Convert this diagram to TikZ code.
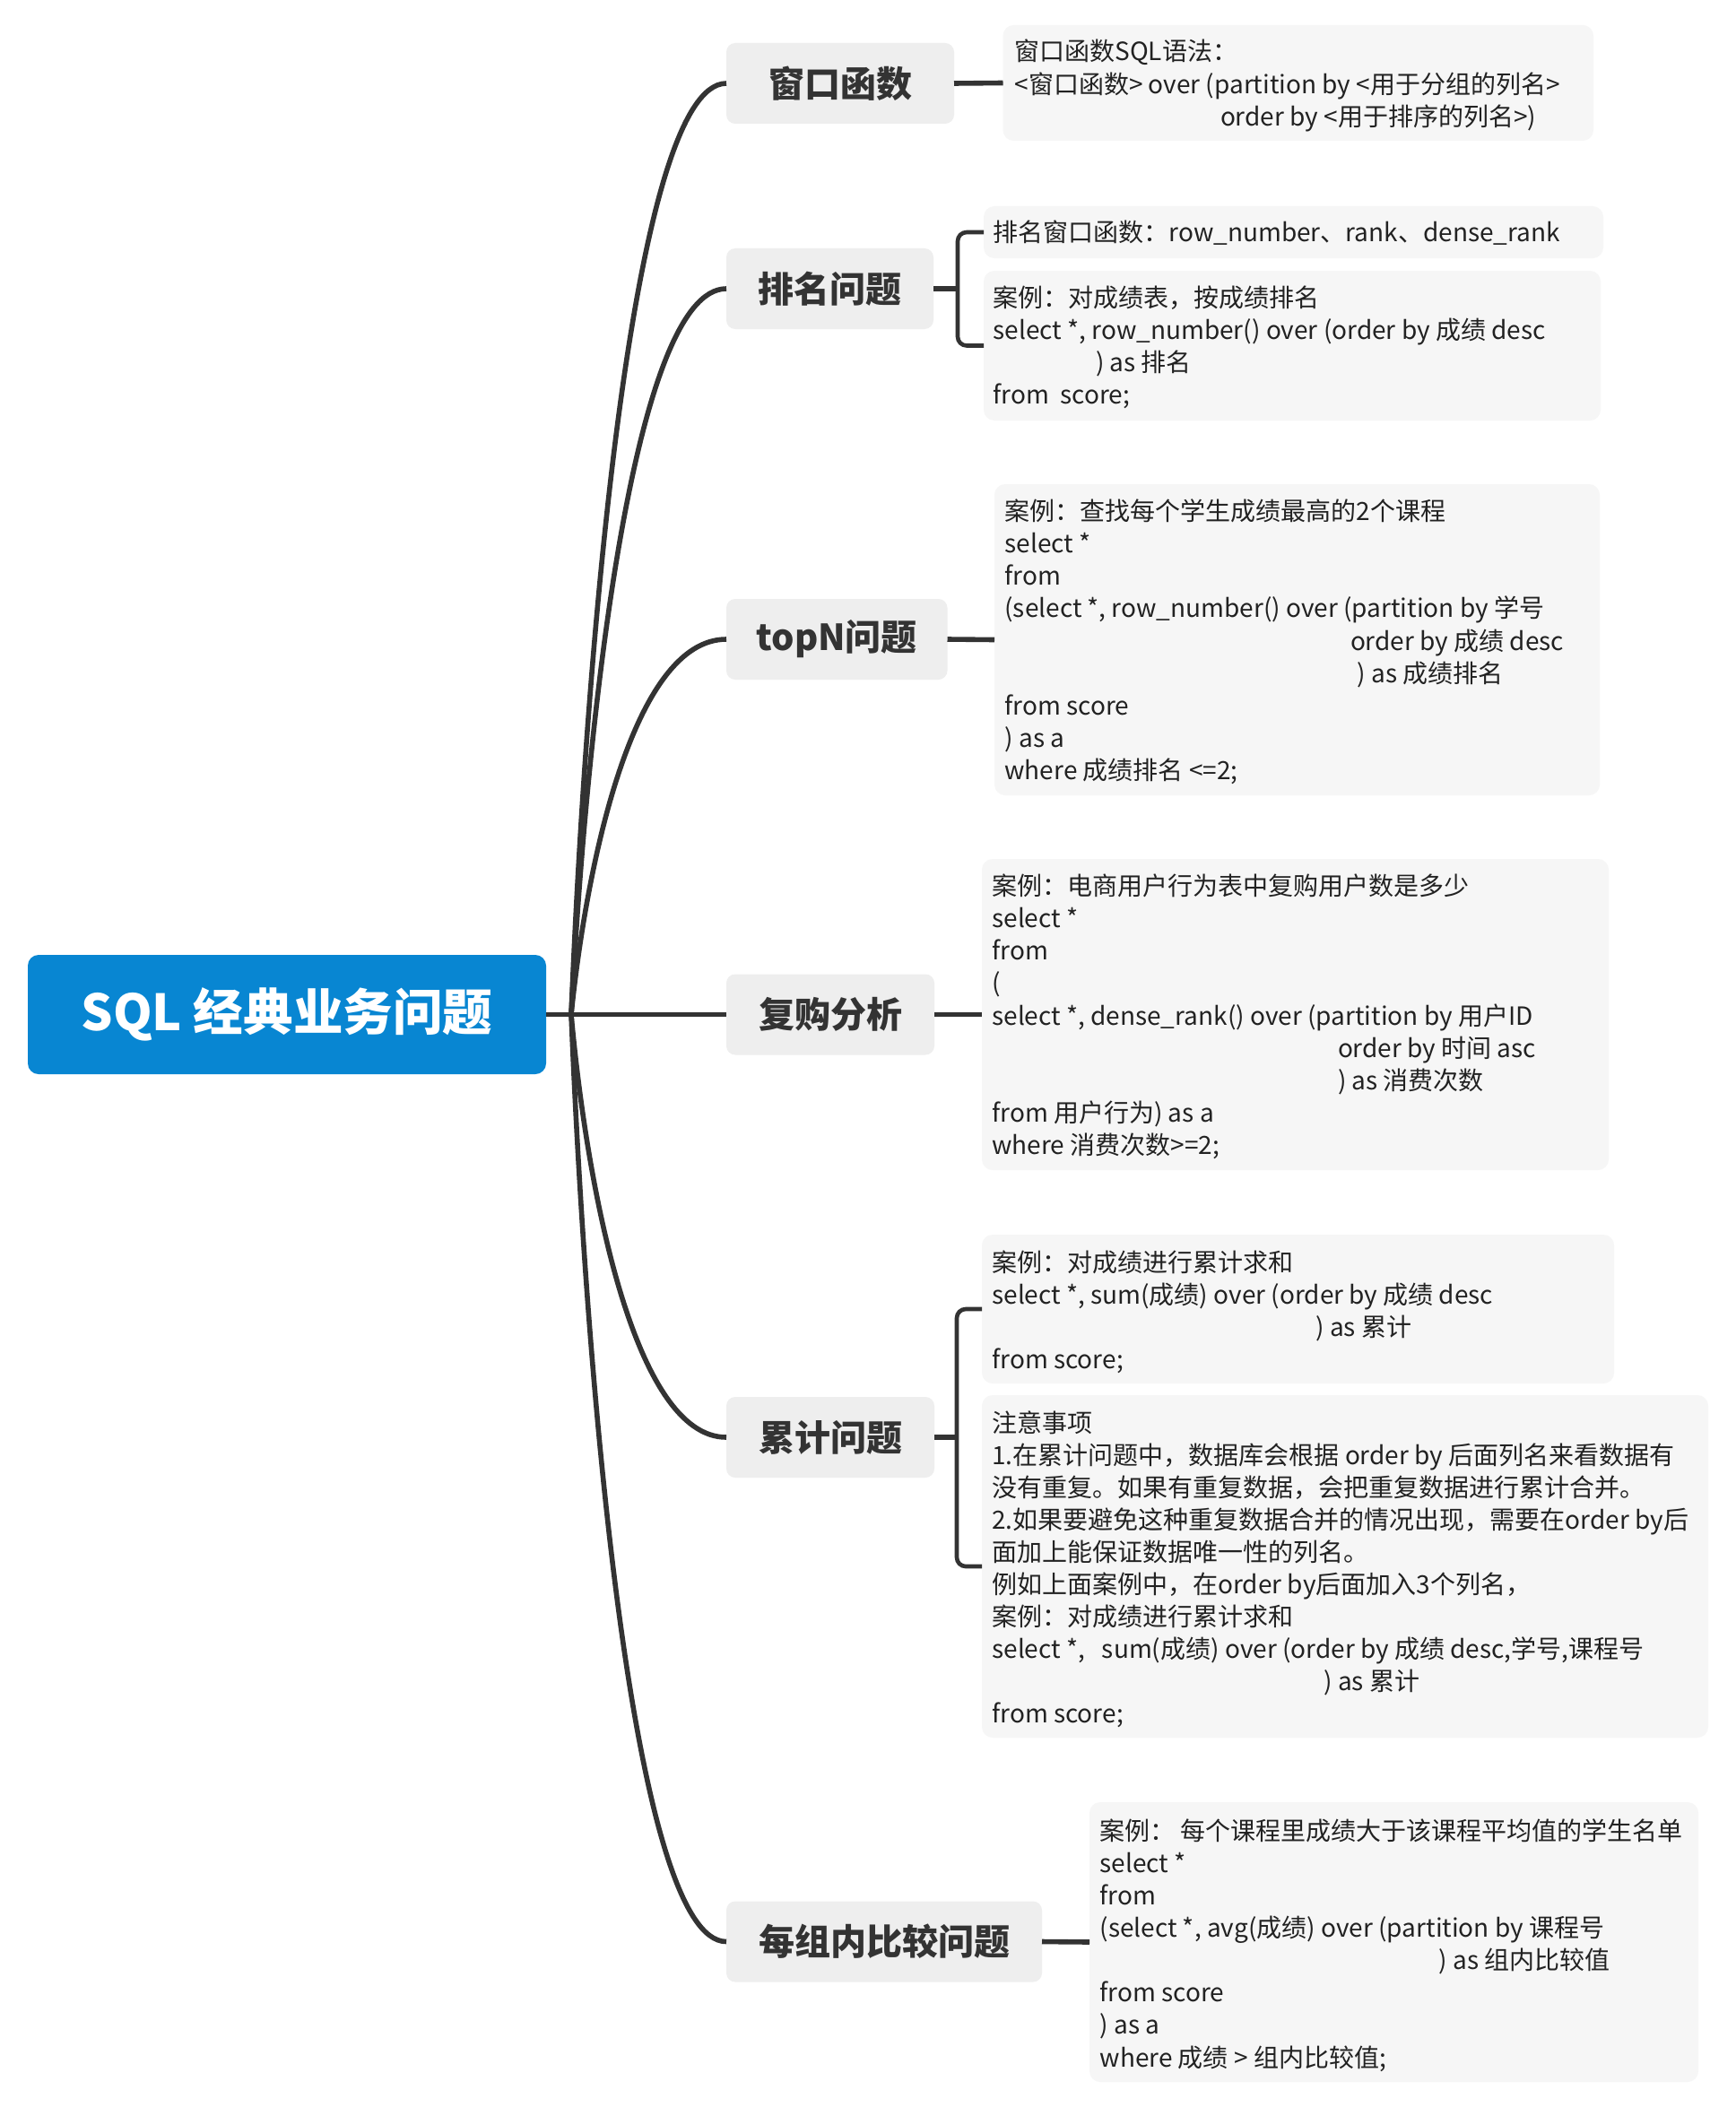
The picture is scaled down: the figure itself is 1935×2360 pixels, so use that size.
\documentclass[tikz,border=0pt]{standalone}
\usepackage{fontspec}
\setmainfont{Noto Sans CJK SC}
\definecolor{rootblue}{HTML}{0886D2}
\definecolor{topicgray}{HTML}{EEEEEE}
\definecolor{detailgray}{HTML}{F6F6F6}
\definecolor{linegray}{HTML}{333333}
\definecolor{titlegray}{HTML}{333333}
\definecolor{textgray}{HTML}{222222}
\newcommand\myind[1]{\hspace*{#1}}
\begin{document}
\begin{tikzpicture}[x=0.5pt,y=-0.5pt,
  conn/.style={draw=linegray, line width=2.8pt},
  brk/.style={draw=linegray, line width=2.3pt, rounded corners=5pt},
  rootbox/.style={fill=rootblue, rounded corners=6pt, inner sep=0pt, outer sep=0pt, text=white, font=\fontsize{27.8}{32}\selectfont\bfseries},
  topic/.style={fill=topicgray, rounded corners=5pt, inner sep=0pt, outer sep=0pt, minimum height=45pt, text=titlegray, font=\fontsize{20}{24}\selectfont\bfseries, anchor=north west},
  detail/.style={fill=detailgray, rounded corners=6pt, inner sep=0pt, outer sep=0pt, anchor=north west},
  txt/.style={inner sep=0pt, outer sep=0pt, anchor=base west, text=textgray, font=\fontsize{14}{18.05}\selectfont}]
\useasboundingbox (0,0) rectangle (1935,2360);
\fill[white] (0,0) rectangle (1935,2360);

% root
\node[rootbox, anchor=north west, minimum width=289pt, minimum height=66.5pt] (root) at (31,1065) {SQL 经典业务问题};

% topics
\node[topic, minimum width=127pt]   (t1) at (810,48)     {窗口函数};
\node[topic, minimum width=115.5pt] (t2) at (810,277)    {排名问题};
\node[topic, minimum width=123.25pt](t3) at (810,668)    {topN问题};
\node[topic, minimum width=116pt]   (t4) at (810,1086.5) {复购分析};
\node[topic, minimum width=116pt]   (t5) at (810,1558)   {累计问题};
\node[topic, minimum width=176pt]   (t6) at (810,2120.5) {每组内比较问题};

% detail boxes
\node[detail, minimum width=329.25pt, minimum height=64.5pt] (B1)  at (1118.5,28) {};
\node[detail, minimum width=345.5pt,  minimum height=29pt]   (B2a) at (1097,230) {};
\node[detail, minimum width=344pt,    minimum height=83.5pt] (B2b) at (1097,302) {};
\node[detail, minimum width=337.5pt,  minimum height=173.5pt](B3)  at (1109,540) {};
\node[detail, minimum width=349.5pt,  minimum height=173.5pt](B4)  at (1095,958) {};
\node[detail, minimum width=352.5pt,  minimum height=83pt]   (B5a) at (1095,1377) {};
\node[detail, minimum width=405pt,    minimum height=191pt]  (B5b) at (1095,1556) {};
\node[detail, minimum width=339.5pt,  minimum height=156pt]  (B6)  at (1215,2010) {};

% texts
\node[txt] (x1) at (1131.5,68) {\parbox[t]{450pt}{窗口函数SQL语法：\\
<窗口函数> over (partition by <用于分组的列名>\\
\myind{114.75pt}order by <用于排序的列名>)}};

\node[txt] (x2a) at (1107.6,269.6) {排名窗口函数：row\_number、rank、dense\_rank};

\node[txt] (x2b) at (1107.6,342.6) {\parbox[t]{450pt}{案例：对成绩表，按成绩排名\\
select *, row\_number() over (order by 成绩 desc\\
\myind{57.25pt}) as 排名\\
from\ \ score;}};

\node[txt] (x3) at (1120.5,580.6) {\parbox[t]{450pt}{案例：查找每个学生成绩最高的2个课程\\
select *\\
from\\
(select *, row\_number() over (partition by 学号\\
\myind{192.75pt}order by 成绩 desc\\
\myind{196.7pt}) as 成绩排名\\
from score\\
) as a\\
where 成绩排名 <=2;}};

\node[txt] (x4) at (1106.4,998.6) {\parbox[t]{450pt}{案例：电商用户行为表中复购用户数是多少\\
select *\\
from\\
(\\
select *, dense\_rank() over (partition by 用户ID\\
\myind{192.8pt}order by 时间 asc\\
\myind{192.8pt}) as 消费次数\\
from 用户行为) as a\\
where 消费次数>=2;}};

\node[txt] (x5a) at (1106.4,1418.2) {\parbox[t]{450pt}{案例：对成绩进行累计求和\\
select *, sum(成绩) over (order by 成绩 desc\\
\myind{180.5pt}) as 累计\\
from score;}};

\node[txt] (x5b) at (1106.4,1597) {\parbox[t]{450pt}{注意事项\\
1.在累计问题中，数据库会根据 order by 后面列名来看数据有\\
没有重复。如果有重复数据，会把重复数据进行累计合并。\\
2.如果要避免这种重复数据合并的情况出现，需要在order by后\\
面加上能保证数据唯一性的列名。\\
例如上面案例中，在order by后面加入3个列名，\\
案例：对成绩进行累计求和\\
select *,\ \ \ sum(成绩) over (order by 成绩 desc,学号,课程号\\
\myind{185pt}) as 累计\\
from score;}};

\node[txt] (x6) at (1226.6,2052.3) {\parbox[t]{450pt}{案例：\ 每个课程里成绩大于该课程平均值的学生名单\\
select *\\
from\\
(select *, avg(成绩) over (partition by 课程号\\
\myind{189pt}) as 组内比较值\\
from score\\
) as a\\
where 成绩 > 组内比较值;}};

% connectors from root
\coordinate (hub) at (637,1131.5);
\draw[conn] (root.east) -- (t4.west);
\draw[conn] (hub) .. controls (654,716) and (706,93) .. (t1.west);
\draw[conn] (hub) .. controls (654,807.7) and (706,322) .. (t2.west);
\draw[conn] (hub) .. controls (654,964) and (706,713) .. (t3.west);
\draw[conn] (hub) .. controls (654,1320) and (706,1603) .. (t5.west);
\draw[conn] (hub) .. controls (654,1545) and (706,2165.5) .. (t6.west);

% topic to details
\draw[conn] (t1.east) -- (B1.west);
\draw[conn] (t3.east) -- (B3.west);
\draw[conn] (t4.east) -- (B4.west);
\draw[conn] (t6.east) -- (B6.west);

\coordinate (b2) at (1068,322);
\draw[conn] (t2.east) -- (b2);
\draw[brk] (B2a.west) -- (B2a.west -| b2) -- (B2b.west -| b2) -- (B2b.west);

\coordinate (b5) at (1067,1603);
\draw[conn] (t5.east) -- (b5);
\draw[brk] (B5a.west) -- (B5a.west -| b5) -- (B5b.west -| b5) -- (B5b.west);
\end{tikzpicture}
\end{document}
